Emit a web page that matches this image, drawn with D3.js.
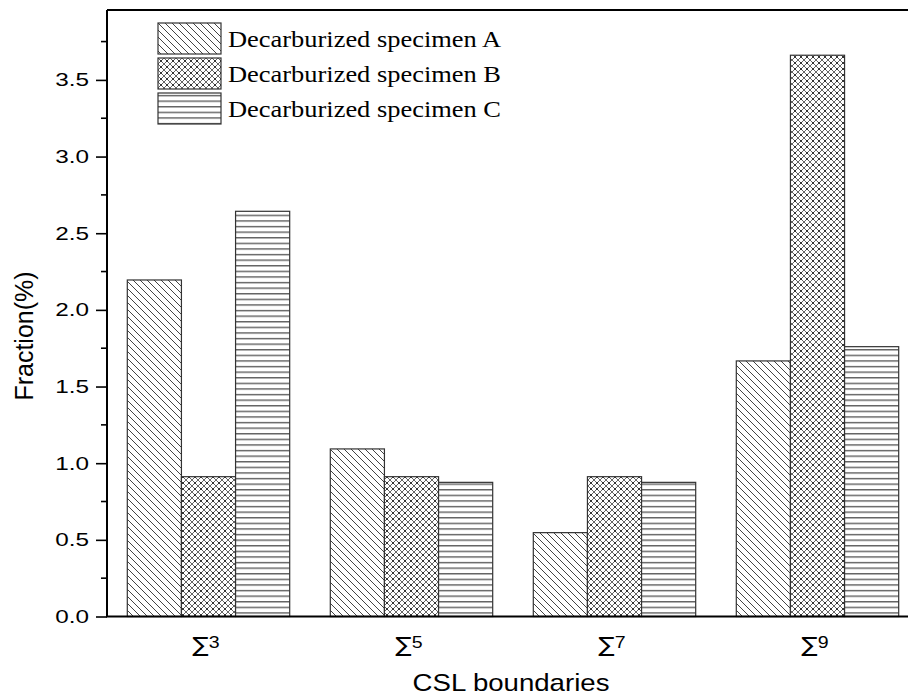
<!DOCTYPE html>
<html><head><meta charset="utf-8">
<script src="https://cdn.jsdelivr.net/npm/d3@7"></script>
<style>body{margin:0;background:#fff}svg{display:block}</style>
</head><body>
<svg id="c" width="908" height="697"></svg>
<script>
const categories = ["3", "5", "7", "9"];
const seriesNames = ["Decarburized specimen A", "Decarburized specimen B", "Decarburized specimen C"];
const specimenA = [2.195, 1.093, 0.547, 1.667];
const specimenB = [0.912, 0.912, 0.912, 3.661];
const specimenC = [2.643, 0.875, 0.875, 1.760];
const yTicks = [0.0, 0.5, 1.0, 1.5, 2.0, 2.5, 3.0, 3.5];

(function(){
const svg = d3.select("#c");
const pl = 107, pt = 10, pb = 616.5, pr = 919;
const x = d3.scaleBand().domain(categories).range([pl, pr]).paddingInner(0.2).paddingOuter(0.1);
const xs = d3.scaleBand().domain([0,1,2]).range([0, x.bandwidth()]);
const y = d3.scaleLinear().domain([0, 3.956]).range([pb, pt]);

const defs = svg.append("defs");
const pA = defs.append("pattern").attr("id","pA").attr("patternUnits","userSpaceOnUse").attr("width",7).attr("height",7);
pA.append("rect").attr("width",7).attr("height",7).attr("fill","#fff");
pA.append("path").attr("d","M-1,-1L8,8M-1,6L1,8M6,-1L8,1").attr("stroke","#444").attr("stroke-width",1);
const pB = defs.append("pattern").attr("id","pB").attr("patternUnits","userSpaceOnUse").attr("width",6).attr("height",6);
pB.append("rect").attr("width",6).attr("height",6).attr("fill","#fff");
pB.append("path").attr("d","M-1,-1L7,7M7,-1L-1,7").attr("stroke","#666").attr("stroke-width",1);
pB.append("rect").attr("x",2.3).attr("y",2.3).attr("width",1.4).attr("height",1.4).attr("fill","#000");
const pC = defs.append("pattern").attr("id","pC").attr("patternUnits","userSpaceOnUse").attr("width",10).attr("height",5.6);
pC.append("rect").attr("width",10).attr("height",5.6).attr("fill","#fff");
pC.append("rect").attr("y",2).attr("width",10).attr("height",1.2).attr("fill","#444");
const fills = ["url(#pA)","url(#pB)","url(#pC)"];
const series = [specimenA, specimenB, specimenC];

const g = svg.append("g");
categories.forEach((c, i) => {
  series.forEach((s, j) => {
    g.append("rect")
      .attr("x", x(c) + xs(j)).attr("y", y(s[i]))
      .attr("width", xs.bandwidth()).attr("height", y(0) - y(s[i]))
      .attr("fill", fills[j]).attr("stroke", "#333").attr("stroke-width", 1.2);
  });
});

svg.append("line").attr("x1",pl).attr("x2",908).attr("y1",pt).attr("y2",pt).attr("stroke","#000").attr("stroke-width",2);
const yAxis = d3.axisLeft(y).tickValues(yTicks).tickFormat(d3.format(".1f")).tickSize(11).tickPadding(7);
const ya = svg.append("g").attr("transform",`translate(${pl},0)`).call(yAxis);
ya.select(".domain").attr("stroke","#000").attr("stroke-width",2).attr("d",`M0,${pb}V${pt}`);
ya.selectAll(".tick line").attr("stroke","#000").attr("stroke-width",1.6);
ya.selectAll(".tick text").attr("font-family","'Liberation Sans', Arial, sans-serif").attr("font-size",18).attr("fill","#000")
  .attr("x",0).attr("dy",0).attr("text-anchor","end").attr("dominant-baseline","central")
  .attr("transform","translate(-18,0) scale(1.35,1)");
const minor = d3.range(0.25, 3.96, 0.5);
svg.append("g").selectAll("line").data(minor).join("line")
  .attr("x1",pl-6).attr("x2",pl).attr("y1",d=>y(d)).attr("y2",d=>y(d)).attr("stroke","#000").attr("stroke-width",1.6);
svg.append("line").attr("x1",pl-1).attr("x2",908).attr("y1",pb).attr("y2",pb).attr("stroke","#000").attr("stroke-width",2);
const xl = svg.append("g").selectAll("g").data(categories).join("g")
  .attr("transform", d => `translate(${x(d)+x.bandwidth()/2 - 1},652) scale(1.15,1)`);
xl.append("text").attr("text-anchor","end").attr("x",1).attr("font-family","'DejaVu Sans', sans-serif").attr("font-size",21).text("\u2211");
xl.append("text").attr("text-anchor","start").attr("x",1).attr("y",-4).attr("font-family","'Liberation Sans', Arial, sans-serif").attr("font-size",17).text(d=>d);

svg.append("text").attr("transform",`translate(${(pl+pr)/2 - 2},691) scale(1.15,1)`).attr("text-anchor","middle")
  .attr("font-family","'Liberation Sans', Arial, sans-serif").attr("font-size",24).text("CSL boundaries");
svg.append("text").attr("transform","translate(33,336) rotate(-90)").attr("text-anchor","middle")
  .attr("font-family","'Liberation Sans', Arial, sans-serif").attr("font-size",25).text("Fraction(%)");

const lg = svg.append("g").selectAll("g").data(seriesNames).join("g")
  .attr("transform",(d,i)=>`translate(158,${23 + i*35})`);
lg.append("rect").attr("width",63).attr("height",31).attr("fill",(d,i)=>fills[i]).attr("stroke","#333").attr("stroke-width",1.2);
lg.append("text").attr("x",70).attr("y",24).attr("font-family","'Liberation Serif', 'Times New Roman', serif").attr("font-size",23)
  .attr("textLength",273).attr("lengthAdjust","spacingAndGlyphs").text(d=>d);
})();
</script>
</body></html>
